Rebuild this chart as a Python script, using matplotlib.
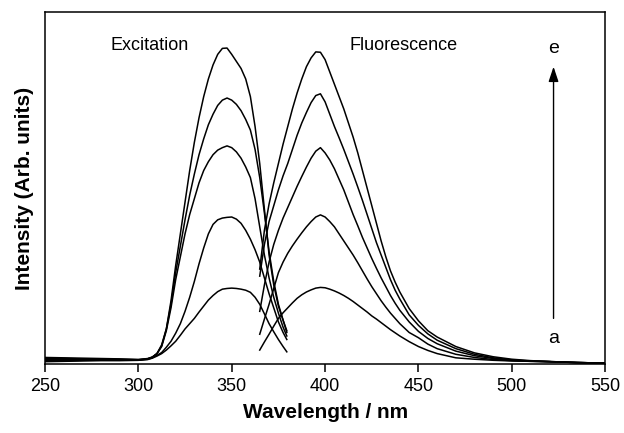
import matplotlib
matplotlib.use("Agg")
import matplotlib.pyplot as plt

plt.rcParams['font.family'] = ['Liberation Sans', 'DejaVu Sans']

# excitation spectra a..e (intensity, arb. units)
exc_wl = [250, 260, 270, 280, 290, 300,
          305, 307.5, 310, 312.5, 315, 317.5, 320, 322.5, 325, 327.5,
          330, 332.5, 335, 337.5, 340, 342.5, 345, 347.5, 350, 352.5,
          355, 357.5, 360, 362.5, 365, 367.5, 370, 372.5, 375, 377.5, 379.5]
exc_a = [0.7, 0.8, 0.9, 1.0, 1.0, 1.1,
         1.3, 1.7, 2.3, 3.0, 4.0, 5.2, 6.5, 8.2, 10.0, 11.5,
         13.0, 14.8, 16.5, 18.2, 19.5, 20.6, 21.3, 21.5, 21.6, 21.5,
         21.3, 21.0, 20.4, 19.0, 17.0, 14.3, 11.5, 9.2, 7.0, 5.0, 3.5]
exc_b = [1.0, 1.0, 1.1, 1.1, 1.1, 1.1,
         1.4, 1.8, 2.5, 3.3, 4.8, 6.5, 8.8, 11.5, 15.0, 19.0,
         23.5, 28.5, 33.0, 37.0, 39.7, 41.0, 41.5, 41.7, 41.8, 41.2,
         40.0, 38.0, 35.5, 32.5, 29.0, 24.5, 20.0, 16.0, 12.0, 9.0, 7.0]
exc_c = [1.4, 1.4, 1.3, 1.3, 1.2, 1.2,
         1.5, 2.0, 3.0, 5.0, 9.5, 16.0, 24.0, 30.5, 37.0, 42.5,
         47.0, 51.5, 55.0, 57.5, 59.5, 60.8, 61.5, 62.0, 61.5, 60.3,
         58.5, 56.0, 53.0, 47.0, 39.0, 31.0, 24.5, 19.0, 14.5, 10.5, 8.0]
exc_d = [1.6, 1.6, 1.5, 1.5, 1.4, 1.3,
         1.5, 2.0, 3.0, 5.2, 10.0, 17.0, 26.0, 33.5, 41.0, 48.0,
         54.0, 59.5, 64.0, 68.0, 71.0, 73.5, 75.0, 75.6, 75.0, 73.8,
         72.0, 69.5, 66.5, 61.0, 53.0, 43.0, 32.0, 23.5, 17.0, 12.5, 9.0]
exc_e = [1.9, 1.8, 1.7, 1.6, 1.5, 1.3,
         1.6, 2.0, 3.0, 5.5, 10.0, 18.0, 28.0, 37.0, 46.0, 55.0,
         63.0, 70.0, 76.0, 81.0, 85.0, 88.0, 89.7, 89.8, 88.0, 86.0,
         84.0, 81.0, 76.0, 67.5, 57.0, 44.0, 31.0, 22.5, 16.5, 12.5, 9.5]

# fluorescence spectra a..e
flu_wl = [365, 367.5, 370, 372.5, 375, 377.5, 380, 382.5, 385, 387.5,
          390, 392.5, 395, 397.5, 400, 402.5, 405, 407.5, 410, 412.5,
          415, 417.5, 420, 422.5, 425, 427.5, 430, 432.5, 435, 437.5, 440,
          445, 450, 455, 460, 470, 480, 490, 500, 510, 520, 535, 550]
flu_a = [4.0, 6.3, 8.5, 10.8, 13.0, 14.6, 16.0, 17.4, 18.7, 19.7,
         20.5, 21.1, 21.6, 21.8, 21.7, 21.3, 20.8, 20.2, 19.5, 18.7,
         17.8, 16.8, 15.8, 14.8, 13.7, 12.8, 11.8, 10.8, 9.8, 8.9, 8.0,
         6.4, 5.0, 3.9, 3.0, 1.8, 1.4, 1.1, 0.9, 0.8, 0.7, 0.45, 0.3]
flu_b = [8.5, 12.8, 17.0, 21.5, 26.0, 29.0, 31.5, 33.6, 35.5, 37.3,
         39.0, 40.5, 41.8, 42.4, 41.8, 40.5, 39.0, 37.0, 35.0, 33.0,
         31.0, 28.8, 26.5, 24.2, 22.0, 20.0, 18.0, 16.2, 14.5, 13.0, 11.5,
         9.0, 7.5, 5.7, 4.4, 2.8, 1.9, 1.3, 1.0, 0.8, 0.7, 0.45, 0.3]
flu_c = [15.0, 22.5, 29.0, 34.0, 38.0, 41.5, 44.5, 47.5, 50.5, 53.3,
         56.0, 58.5, 60.5, 61.5, 60.0, 58.0, 55.5, 52.5, 49.5, 46.0,
         42.5, 39.3, 36.0, 33.0, 30.0, 27.2, 24.5, 22.0, 19.5, 17.3, 15.3,
         12.0, 9.3, 7.3, 5.8, 3.7, 2.4, 1.6, 1.1, 0.85, 0.7, 0.45, 0.3]
flu_d = [25.0, 34.0, 40.5, 45.0, 49.5, 53.5, 57.0, 61.0, 65.0, 68.5,
         71.5, 74.3, 76.3, 76.8, 74.5, 71.0, 67.5, 64.3, 61.0, 57.5,
         54.0, 50.3, 46.5, 42.5, 38.5, 34.5, 31.0, 27.5, 24.0, 21.0, 18.5,
         14.0, 11.0, 8.6, 6.8, 4.4, 2.8, 1.8, 1.2, 0.9, 0.75, 0.45, 0.3]
flu_e = [27.0, 38.0, 45.5, 51.5, 57.0, 62.5, 67.5, 72.5, 77.0, 81.0,
         84.5, 87.0, 88.7, 88.6, 86.5, 83.0, 79.5, 76.0, 72.5, 68.5,
         64.5, 60.0, 55.0, 50.0, 45.0, 40.0, 35.0, 30.5, 26.5, 23.3, 20.5,
         15.8, 12.3, 9.5, 7.7, 5.0, 3.2, 2.1, 1.4, 1.0, 0.75, 0.45, 0.3]

fig = plt.figure(figsize=(6.24, 4.33), dpi=100)
ax = fig.add_axes([0.072, 0.159, 0.898, 0.813])

for y in [exc_a, exc_b, exc_c, exc_d, exc_e]:
    ax.plot(exc_wl, y, color='black', lw=1.1)
for y in [flu_a, flu_b, flu_c, flu_d, flu_e]:
    ax.plot(flu_wl, y, color='black', lw=1.1)

ax.set_xlim(250, 550)
ax.set_ylim(0, 100)
ax.set_xticks([250, 300, 350, 400, 450, 500, 550])
ax.set_yticks([])
ax.tick_params(axis='x', direction='out', length=6, width=1.1, labelsize=13, pad=4)
for s in ax.spines.values():
    s.set_linewidth(1.1)

ax.set_xlabel("Wavelength / nm", fontsize=15, fontweight='bold', labelpad=6)
ax.set_ylabel("Intensity (Arb. units)", fontsize=15, fontweight='bold', labelpad=8)

ax.text(306, 90.5, "Excitation", fontsize=13, ha='center', va='center')
ax.text(442, 90.5, "Fluorescence", fontsize=13, ha='center', va='center')
ax.text(522.3, 89.8, "e", fontsize=14, ha='center', va='center')
ax.text(522.3, 7.3, "a", fontsize=14, ha='center', va='center')
ax.annotate("", xy=(522.3, 84.5), xytext=(522.3, 13),
            arrowprops=dict(arrowstyle='-|>,head_length=0.9,head_width=0.3',
                            color='black', lw=1.0, shrinkA=0, shrinkB=0))

fig.savefig("out.png", dpi=100)
